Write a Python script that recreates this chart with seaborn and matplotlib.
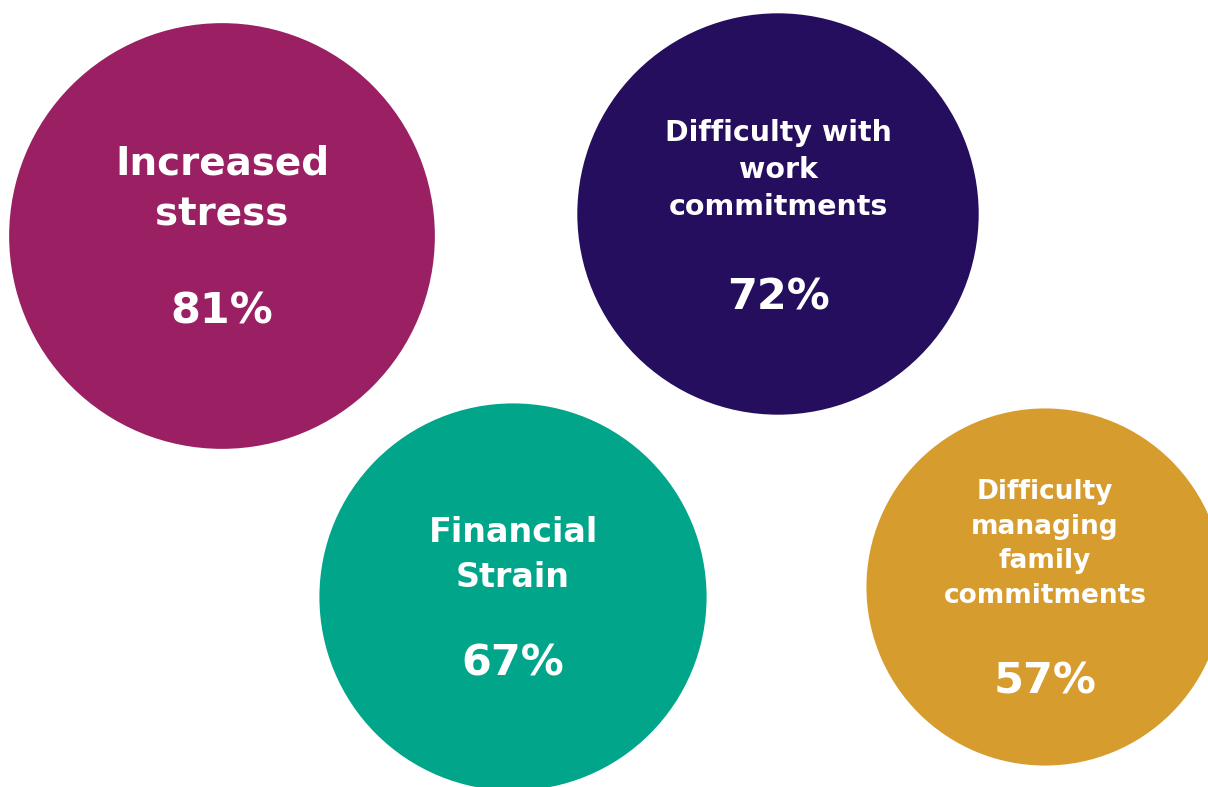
import pandas as pd
import numpy as np
import matplotlib
matplotlib.use("Agg")
import matplotlib.pyplot as plt
import seaborn as sns

# bubbles: area proportional to the share of respondents
labels = ["Increased\nstress", "Difficulty with\nwork\ncommitments",
          "Financial\nStrain", "Difficulty\nmanaging\nfamily\ncommitments"]
values = [81, 72, 67, 57]
x_pos = [222, 778, 513, 1045]
y_pos = [236, 214, 597, 587]
colors = ["#9A1F63", "#250E5E", "#00A58A", "#D79C2E"]

df = pd.DataFrame({"label": labels, "value": values, "x": x_pos, "y": y_pos})

sns.set_theme(style="white")
plt.rcParams["font.family"] = ["DejaVu Sans"]

fig = plt.figure(figsize=(12.08, 7.87), dpi=100)
ax = fig.add_axes([0, 0, 1, 1])

# marker area s (pt^2) grows linearly with value -> radius ~ sqrt(value)
sns.scatterplot(data=df, x="x", y="y", hue="label", palette=colors,
                size="value", sizes=(0, 116000), size_norm=(0, 100),
                linewidth=0, legend=False, ax=ax, alpha=1)

ax.set_xlim(0, 1208)
ax.set_ylim(787, 0)
ax.set_axis_off()

# label text: (label y offset, pct y offset, label fontsize)
txt_style = [(-47, 76, 28), (-44, 83, 20.5), (-42, 67, 24), (-43, 94, 19)]
for (lab, val, x, y), (dl, dp, fs) in zip(zip(labels, values, x_pos, y_pos), txt_style):
    ax.text(x, y + dl, lab, ha="center", va="center", color="white",
            fontsize=fs, fontweight="bold", linespacing=1.43)
    ax.text(x, y + dp, f"{val}%", ha="center", va="center", color="white",
            fontsize=31, fontweight="bold")

fig.savefig("out.png", dpi=100)
